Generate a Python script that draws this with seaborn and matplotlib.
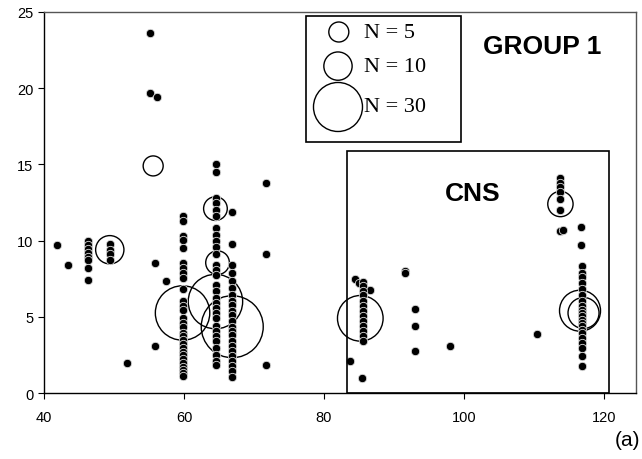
import numpy as np
import pandas as pd
import matplotlib
matplotlib.use("Agg")
import matplotlib.pyplot as plt
from matplotlib.patches import Rectangle
import seaborn as sns

# ---- data ----
single_x = [41.8, 43.4, 51.8, 55.1, 55.1, 56.1, 55.9, 57.4, 55.9, 66.8, 66.9,
            71.7, 71.7, 71.7, 84.5, 85.0, 86.6, 91.6, 91.6, 93.0, 93.0, 93.0,
            83.7, 85.5, 98.0, 110.4, 113.7, 114.1, 116.8, 116.8]
single_y = [9.7, 8.4, 1.95, 23.6, 19.7, 19.4, 8.5, 7.35, 3.1, 11.85, 9.8,
            13.75, 9.1, 1.85, 7.45, 7.25, 6.75, 8.0, 7.85, 5.5, 4.4, 2.75,
            2.1, 1.0, 3.1, 3.85, 10.6, 10.7, 10.9, 9.7]

col_x = [46.3, 49.4, 59.8, 64.6, 66.9, 85.6, 113.8, 116.9]
col_y = [
    [10.0, 9.7, 9.45, 9.2, 8.95, 8.7, 8.2, 7.4],
    [9.75, 9.4, 9.1, 8.7],
    [11.6, 11.3, 10.3, 10.05, 9.5, 8.55, 8.2, 7.9, 7.55, 6.8, 6.05, 5.7, 5.45,
     4.95, 4.6, 4.3, 3.95, 3.75, 3.5, 3.2, 2.95, 2.7, 2.5, 2.2, 1.95, 1.7,
     1.5, 1.3, 1.1],
    [15.05, 14.5, 12.8, 12.5, 12.0, 11.6, 10.85, 10.4, 10.0, 9.55, 9.1, 8.4,
     8.1, 7.75, 7.1, 6.7, 6.25, 5.9, 5.6, 5.25, 4.95, 4.4, 4.1, 3.75, 3.4,
     2.95, 2.5, 2.1, 1.85],
    [8.4, 7.9, 7.35, 6.9, 6.45, 6.05, 5.75, 5.4, 5.1, 4.75, 4.35, 4.1, 3.8,
     3.4, 3.1, 2.75, 2.45, 2.1, 1.8, 1.45, 1.05],
    [7.3, 7.0, 6.7, 6.4, 6.05, 5.7, 5.4, 5.05, 4.75, 4.4, 4.1, 3.75, 3.4],
    [14.1, 13.8, 13.5, 13.2, 12.7, 12.0],
    [8.35, 7.9, 7.6, 7.25, 6.8, 6.45, 6.05, 5.7, 5.45, 5.25, 5.05, 4.8, 4.6,
     4.4, 4.15, 3.95, 3.6, 3.3, 2.95, 2.45, 1.8],
]

circ_x = [49.4, 55.6, 59.8, 64.5, 64.8, 64.5, 66.9, 85.2, 113.8, 116.6, 117.1]
circ_y = [9.4, 14.9, 5.25, 12.1, 8.55, 6.0, 4.35, 4.9, 12.4, 5.4, 5.25]
circ_n = [10, 5, 37, 7, 7, 37, 48, 26, 8, 21, 12]

legend_n = [5, 10, 30]
legend_labels = ["N = 5", "N = 10", "N = 30"]

xticks = [40, 60, 80, 100, 120]
yticks = [0, 5, 10, 15, 20, 25]

# ---- build tables ----
dx, dy = list(single_x), list(single_y)
for cx, ys in zip(col_x, col_y):
    dx += [cx] * len(ys)
    dy += ys
dots = pd.DataFrame({"x": dx, "y": dy})
circles = pd.DataFrame({"x": circ_x, "y": circ_y, "n": circ_n})

S_PER_N = 41.5  # marker area (pt^2) per case

sns.set_style("ticks")
plt.rcParams["font.family"] = ["Liberation Sans", "DejaVu Sans"]
plt.rcParams["text.color"] = "black"
plt.rcParams["xtick.color"] = "black"
plt.rcParams["ytick.color"] = "black"
plt.rcParams["xtick.labelcolor"] = "black"
plt.rcParams["ytick.labelcolor"] = "black"

fig = plt.figure(figsize=(6.42, 4.60), dpi=100)
ax = fig.add_axes([44 / 642, 1 - 394 / 460, 592 / 642, 381 / 460])

sns.scatterplot(data=circles, x="x", y="y", size="n",
                sizes=(0, S_PER_N * 50), size_norm=(0, 50),
                facecolor="none", edgecolor="black", linewidth=1.0,
                legend=False, ax=ax, zorder=2)
sns.scatterplot(data=dots, x="x", y="y", color="black", s=36,
                edgecolor="#d8d8d8", linewidth=0.6, legend=False, ax=ax,
                zorder=3)

ax.set_xlim(40, 124.6)
ax.set_ylim(0, 25)
ax.set_xticks(xticks)
ax.set_yticks(yticks)
ax.set_xticklabels([str(t) for t in xticks])
ax.set_yticklabels([str(t) for t in yticks])
ax.set_xlabel("")
ax.set_ylabel("")
ax.tick_params(axis="both", labelsize=10.5, length=4, width=0.8,
               colors="black", labelcolor="black", direction="out")
ax.tick_params(axis="x", pad=8)
for side in ["left", "bottom"]:
    ax.spines[side].set_color("black")
    ax.spines[side].set_linewidth(1.0)
for side in ["top", "right"]:
    ax.spines[side].set_visible(True)
    ax.spines[side].set_color("#555555")
    ax.spines[side].set_linewidth(1.0)

# CNS box
ax.add_patch(Rectangle((83.3, 0), 120.8 - 83.3, 15.9, fill=False,
                       edgecolor="black", linewidth=1.2, zorder=4))
ax.text(0.677, 0.525, "CNS", transform=ax.transAxes, fontsize=19,
        fontweight="bold", ha="left", va="center", color="black")
ax.text(0.7416, 0.912, "GROUP 1", transform=ax.transAxes, fontsize=19,
        fontweight="bold", ha="left", va="center", color="black")

# size legend box
ax.add_patch(Rectangle((0.4426, 0.6588), 0.7044 - 0.4426, 0.9895 - 0.6588,
                       transform=ax.transAxes, fill=False,
                       edgecolor="black", linewidth=1.2, zorder=4))
leg_cx = [0.498, 0.4966, 0.4966]
leg_cy = [0.9475, 0.858, 0.7507]
ax.scatter(leg_cx, leg_cy, s=[S_PER_N * n for n in legend_n],
           facecolor="white", edgecolor="black", linewidth=1.0,
           transform=ax.transAxes, zorder=5, clip_on=False)
for cy, lab in zip(leg_cy, legend_labels):
    ax.text(0.5405, cy, lab, transform=ax.transAxes, fontsize=16,
            family=["Liberation Serif", "DejaVu Serif"], ha="left",
            va="center", zorder=6, color="black")

fig.text(0.997, 1 - 441 / 460, "(a)", fontsize=15, ha="right", va="center",
         color="black")

fig.savefig("out.png", dpi=100)
